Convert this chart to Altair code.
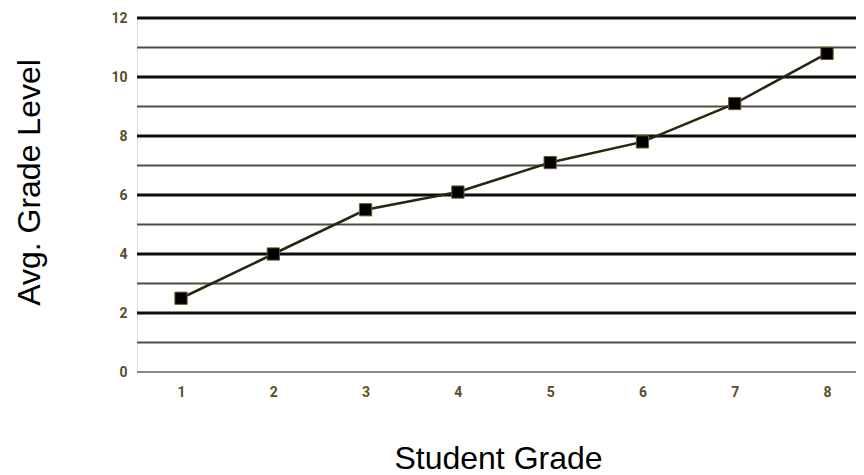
import altair as alt
import pandas as pd

grades = [1, 2, 3, 4, 5, 6, 7, 8]
avg_level = [2.5, 4.0, 5.5, 6.1, 7.1, 7.8, 9.1, 10.8]
major_grid = [2, 4, 6, 8, 10, 12]
minor_grid = [1, 3, 5, 7, 9, 11]
zero_grid = [0]
y_ticks = [0, 2, 4, 6, 8, 10, 12]

df = pd.DataFrame({"grade": grades, "level": avg_level})
major_df = pd.DataFrame({"v": major_grid})
minor_df = pd.DataFrame({"v": minor_grid})
zero_df = pd.DataFrame({"v": zero_grid})

LABEL_COLOR = "#5a4e26"
xscale = alt.Scale(domain=[0.523, 8.314], nice=False, zero=False)
yscale = alt.Scale(domain=[0, 12], nice=False)

x_enc = alt.X(
    "grade:Q", scale=xscale,
    axis=alt.Axis(
        values=grades, format="d", grid=False, domain=False, ticks=False,
        labelColor=LABEL_COLOR, labelFont="Roboto", labelFontWeight="bold",
        labelFontSize=14, labelPadding=13,
        title="Student Grade", titleFont="Liberation Sans", titleFontSize=32,
        titleFontWeight="normal", titleColor="#000000",
        titleX=361, titleY=96, titleAnchor="middle", titleAlign="center",
        titleBaseline="alphabetic",
    ),
)
y_enc = alt.Y(
    "level:Q", scale=yscale,
    axis=alt.Axis(
        values=y_ticks, grid=False, domain=False, ticks=False,
        labelColor=LABEL_COLOR, labelFont="Roboto", labelFontWeight="bold",
        labelFontSize=14, labelPadding=10,
        title="Avg. Grade Level", titleFont="Liberation Sans", titleFontSize=32,
        titleFontWeight="normal", titleColor="#000000",
        titleAngle=-90, titleX=-98, titleY=164, titleAlign="center",
        titleBaseline="alphabetic",
    ),
)

zero_rule = alt.Chart(zero_df).mark_rule(color="#8a8a84", strokeWidth=2).encode(
    y=alt.Y("v:Q", scale=yscale)
)
minor_rule = alt.Chart(minor_df).mark_rule(color="#4e4c40", strokeWidth=1.8).encode(
    y=alt.Y("v:Q", scale=yscale)
)
major_rule = alt.Chart(major_df).mark_rule(color="#0d0d0a", strokeWidth=3).encode(
    y=alt.Y("v:Q", scale=yscale)
)

line = alt.Chart(df).mark_line(color="#2a2510", strokeWidth=2.5).encode(x=x_enc, y=y_enc)
points = alt.Chart(df).mark_point(
    shape="square", size=150, filled=True, fill="#000000", stroke="#6b5a2a",
    strokeWidth=1, opacity=1
).encode(x=alt.X("grade:Q", scale=xscale), y=alt.Y("level:Q", scale=yscale))

chart = alt.layer(zero_rule, minor_rule, major_rule, line, points).properties(
    width=719, height=354,
    autosize=alt.AutoSizeParams(type="none"),
    padding={"left": 129, "top": 10, "right": 0, "bottom": 102},
).configure_view(stroke=None).configure(background="white")

chart.save("out.html", embed_options={"renderer": "svg", "actions": False})
